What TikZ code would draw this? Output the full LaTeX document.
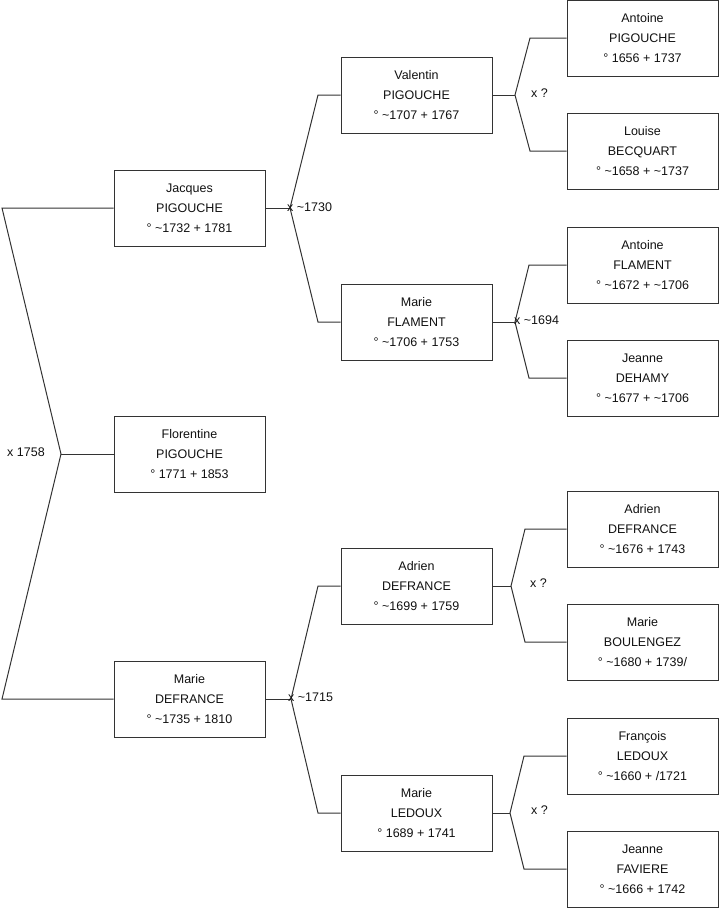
\documentclass[tikz,border=0pt]{standalone}
\usepackage{fontspec}
\setmainfont{Liberation Sans}
\usepackage{xcolor}
\usetikzlibrary{positioning,calc}
\definecolor{boxline}{HTML}{333333}
\definecolor{inktext}{HTML}{111111}
\newcommand{\ca}{\textasciitilde}

\tikzset{
  person/.style={draw=boxline, line width=1pt, fill=white, text=inktext,
    minimum width=151pt, minimum height=76pt, inner sep=0pt, align=center,
    font=\fontsize{12.5}{20}\selectfont},
  link/.style={draw=boxline, line width=1pt},
  union/.style={text=inktext, inner sep=0pt, anchor=west,
    font=\fontsize{12.5}{15}\selectfont}
}

\begin{document}
\begin{tikzpicture}[x=1pt, y=-1pt]
\useasboundingbox (0,0) rectangle (719,908);
% Generation 1
\node[person] (florentine) at (189.5,454) {Florentine\\PIGOUCHE\\° 1771 + 1853};
% Generation 2
\node[person] (jacques) at (189.5,208) {Jacques\\PIGOUCHE\\° \ca1732 + 1781};
\node[person] (marieD) at (189.5,699) {Marie\\DEFRANCE\\° \ca1735 + 1810};
% Generation 3
\node[person] (valentin) at (416.5,95) {Valentin\\PIGOUCHE\\° \ca1707 + 1767};
\node[person] (marieF) at (416.5,322) {Marie\\FLAMENT\\° \ca1706 + 1753};
\node[person] (adrien) at (416.5,586) {Adrien\\DEFRANCE\\° \ca1699 + 1759};
\node[person] (marieL) at (416.5,813) {Marie\\LEDOUX\\° 1689 + 1741};
% Generation 4
\node[person] (antoineP) at (642.5,38) {Antoine\\PIGOUCHE\\° 1656 + 1737};
\node[person] (louise) at (642.5,151) {Louise\\BECQUART\\° \ca1658 + \ca1737};
\node[person] (antoineF) at (642.5,265) {Antoine\\FLAMENT\\° \ca1672 + \ca1706};
\node[person] (jeanneD) at (642.5,378) {Jeanne\\DEHAMY\\° \ca1677 + \ca1706};
\node[person] (adrienD) at (642.5,529) {Adrien\\DEFRANCE\\° \ca1676 + 1743};
\node[person] (marieB) at (642.5,642) {Marie\\BOULENGEZ\\° \ca1680 + 1739/};
\node[person] (francois) at (642.5,756) {François\\LEDOUX\\° \ca1660 + /1721};
\node[person] (jeanneF) at (642.5,869) {Jeanne\\FAVIERE\\° \ca1666 + 1742};
% Couple points
\coordinate (cpl0) at (61,454);
\coordinate (cpl1) at (290,208);
\coordinate (cpl2) at (291,699);
\coordinate (cpl3) at (515,95);
\coordinate (cpl4) at (515,322);
\coordinate (cpl5) at (511,586);
\coordinate (cpl6) at (510,813);
% Links
\draw[link] (florentine.west) -- (cpl0);
\draw[link] (jacques.west) -- (2,208) -- (cpl0) -- (2,699) -- (marieD.west);
\draw[link] (jacques.east) -- (cpl1);
\draw[link] (valentin.west) -- (318,95) -- (cpl1) -- (318,322) -- (marieF.west);
\draw[link] (marieD.east) -- (cpl2);
\draw[link] (adrien.west) -- (318,586) -- (cpl2) -- (318,813) -- (marieL.west);
\draw[link] (valentin.east) -- (cpl3);
\draw[link] (antoineP.west) -- (530,38) -- (cpl3) -- (530,151) -- (louise.west);
\draw[link] (marieF.east) -- (cpl4);
\draw[link] (antoineF.west) -- (529,265) -- (cpl4) -- (529,378) -- (jeanneD.west);
\draw[link] (adrien.east) -- (cpl5);
\draw[link] (adrienD.west) -- (525,529) -- (cpl5) -- (525,642) -- (marieB.west);
\draw[link] (marieL.east) -- (cpl6);
\draw[link] (francois.west) -- (524,756) -- (cpl6) -- (524,869) -- (jeanneF.west);
% Marriages
\node[union] (m0) at (7,452) {x 1758};
\node[union] (m1) at ($(cpl1)+(-3,-1)$) {x \ca1730};
\node[union] (m2) at ($(cpl2)+(-3,-2)$) {x \ca1715};
\node[union] (m3) at ($(cpl3)+(16,-2)$) {x ?};
\node[union] (m4) at ($(cpl4)+(-1,-2)$) {x \ca1694};
\node[union] (m5) at ($(cpl5)+(19,-3)$) {x ?};
\node[union] (m6) at ($(cpl6)+(21,-3)$) {x ?};
\end{tikzpicture}
\end{document}
